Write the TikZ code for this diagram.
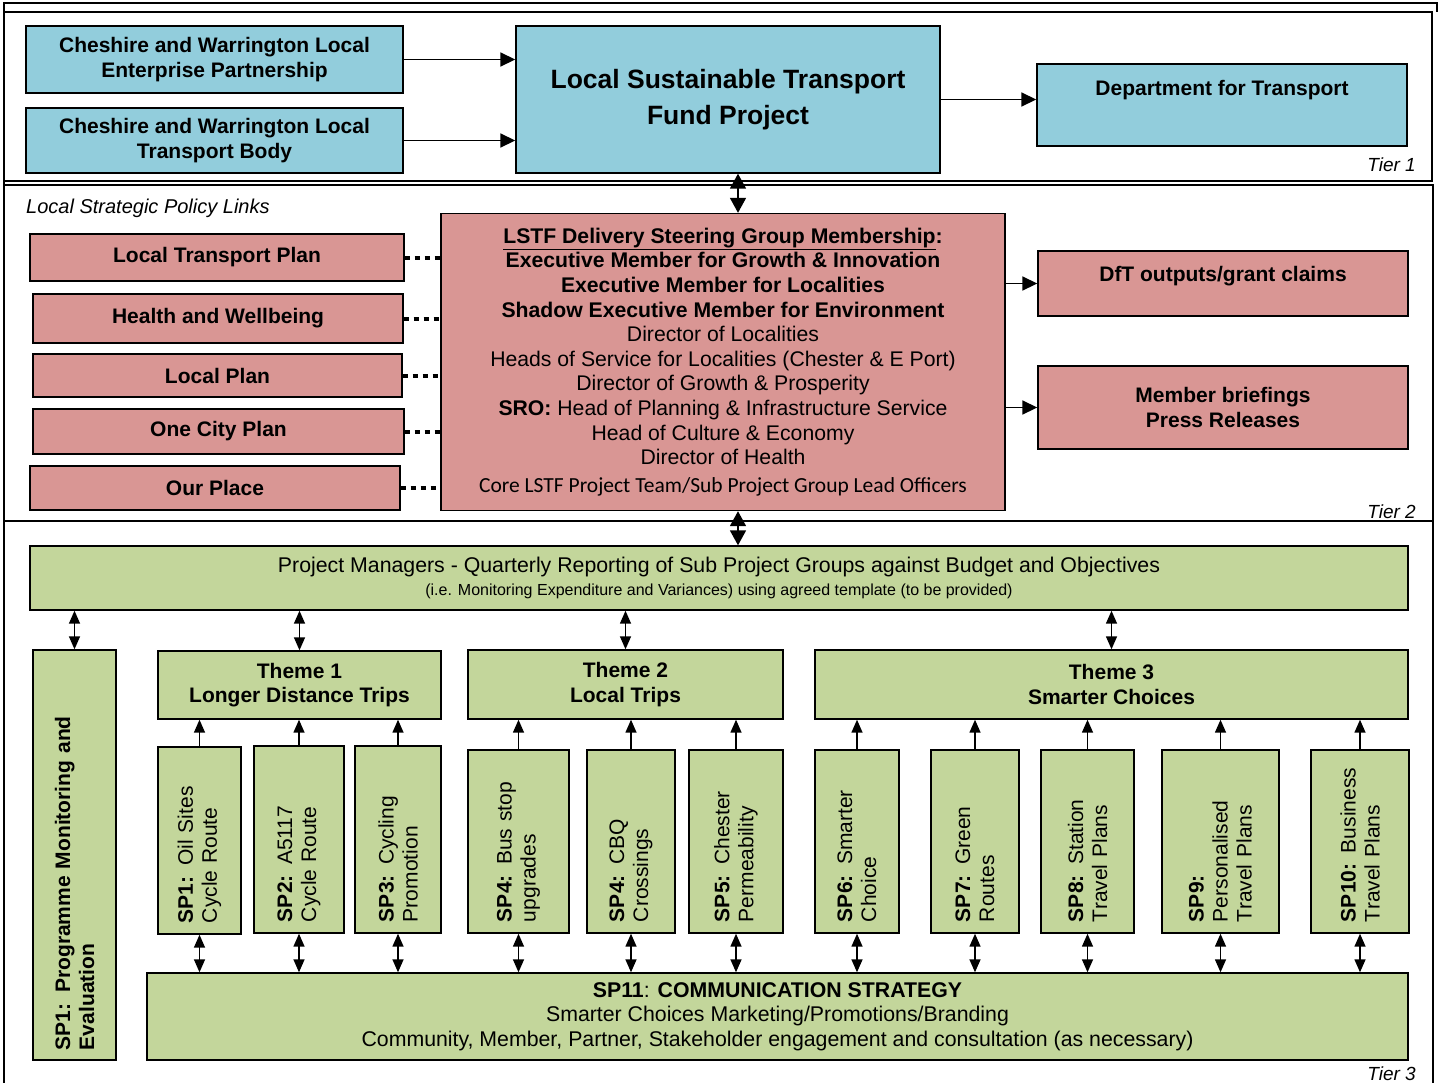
\documentclass[tikz,border=0pt]{standalone}
\usepackage{fontspec}
\setmainfont{Liberation Sans}
\newfontfamily\corefont{Carlito}
\usetikzlibrary{positioning,arrows.meta,calc}
\definecolor{lstfblue}{RGB}{146,205,220}
\definecolor{lstfpink}{RGB}{217,150,148}
\definecolor{lstfgreen}{RGB}{195,214,155}

\begin{document}
\begin{tikzpicture}[x=1pt,y=-1pt,
  frame/.style={draw, line width=1.3pt},
  bluebox/.style={draw, line width=1.4pt, fill=lstfblue, align=center, inner sep=0pt,
              font=\bfseries\fontsize{21}{24.5}\selectfont},
  pinkbox/.style={draw, line width=1.4pt, fill=lstfpink, align=center, inner sep=0pt,
              font=\bfseries\fontsize{21}{24.5}\selectfont},
  greenbox/.style={draw, line width=1.4pt, fill=lstfgreen, align=center, inner sep=0pt,
              font=\fontsize{21.3}{24.5}\selectfont},
  spbox/.style={draw, line width=1.4pt, fill=lstfgreen, rotate=90, align=left,
              inner xsep=11pt, inner ysep=0pt, font=\fontsize{21}{24}\selectfont},
  ar/.style={-{Triangle[length=15pt,width=14pt]}, line width=1.7pt},
  dar/.style={{Triangle[length=15pt,width=16pt]}-{Triangle[length=15pt,width=16pt]}, line width=1.7pt},
  sar/.style={-{Triangle[length=13pt,width=11pt]}, line width=1.5pt},
  sdar/.style={{Triangle[length=13pt,width=11pt]}-{Triangle[length=13pt,width=11pt]}, line width=1.5pt},
  link/.style={line width=4pt, dash pattern=on 5pt off 5pt},
  lab/.style={font=\itshape\fontsize{19}{22}\selectfont, inner sep=0pt},
]
\useasboundingbox (0,0) rectangle (1440,1082);
\clip (0,0) rectangle (1440,1082);
% tier frames
\draw[frame] (4,1100) |- (1437,3) -- (1437,12);
\draw[frame] (4,12) rectangle (1432,181);
\draw[frame] (4,185) rectangle (1433,521);
\draw[frame] (4,521) rectangle (1433,1100);

% tier 1
\node[bluebox, minimum width=377pt, minimum height=67pt] (lep) at (214.5,59.5)
  {Cheshire and Warrington Local\\Enterprise Partnership};
\node[bluebox, minimum width=377pt, minimum height=65pt] (ltb) at (214.5,140.5)
  {Cheshire and Warrington Local\\Transport Body};
\node[bluebox, minimum width=424pt, minimum height=147pt,
      font=\bfseries\fontsize{26.5}{36}\selectfont] (lstf) at (728,99.5)
  {Local Sustainable Transport\\Fund Project};
\node[bluebox, minimum width=370pt, minimum height=82pt,
      text height=15pt, text depth=34pt] (dft) at (1222,105) {Department for Transport};
\draw[ar] (lep.east) -- (lep.east -| lstf.west);
\draw[ar] (ltb.east) -- (ltb.east -| lstf.west);
\draw[ar] (lstf.east) -- (lstf.east -| dft.west);
\node[lab, anchor=east] (t1) at (1416,165) {Tier 1};

% tier 2
\node[lab, anchor=west, font=\itshape\fontsize{20}{22}\selectfont] (links) at (26,208)
  {Local Strategic Policy Links};
\node[pinkbox, minimum width=374pt, minimum height=47pt] (ltp) at (217,257.5) {Local Transport Plan};
\node[pinkbox, minimum width=370pt, minimum height=49pt] (hw) at (218,318.5) {Health and Wellbeing};
\node[pinkbox, minimum width=369pt, minimum height=43pt] (lp) at (217.5,375.5) {Local Plan};
\node[pinkbox, minimum width=371pt, minimum height=45pt] (ocp) at (218.5,431.5) {One City Plan};
\node[pinkbox, minimum width=370pt, minimum height=44pt] (op) at (215,488) {Our Place};
\node[pinkbox, minimum width=564pt, minimum height=297pt,
      font=\fontsize{21.2}{24.6}\selectfont] (sg) at (723,362)
  {\textbf{\underline{LSTF Delivery Steering Group Membership}:}\\
   \textbf{Executive Member for Growth \& Innovation}\\
   \textbf{Executive Member for Localities}\\
   \textbf{Shadow Executive Member for Environment}\\
   Director of Localities\\
   Heads of Service for Localities (Chester \& E Port)\\
   Director of Growth \& Prosperity\\
   \textbf{SRO:} Head of Planning \& Infrastructure Service\\
   Head of Culture \& Economy\\
   Director of Health\\[3pt]
   {\corefont\fontsize{21.5}{24}\selectfont Core LSTF Project Team/Sub Project Group Lead Officers}};
\node[pinkbox, minimum width=370pt, minimum height=65pt,
      text height=15pt, text depth=19pt] (dfto) at (1223,283.5) {DfT outputs/grant claims};
\node[pinkbox, minimum width=370pt, minimum height=83pt] (brief) at (1223,407.5)
  {Member briefings\\Press Releases};
\foreach \p in {ltp,hw,lp,ocp,op}
  \draw[link] (\p.east) -- (\p.east -| sg.west);
\draw[ar] (sg.east |- dfto.west) -- (dfto.west);
\draw[ar] (sg.east |- brief.west) -- (brief.west);
\draw[dar] ([xshift=10pt]lstf.south) -- ([xshift=10pt]lstf.south |- sg.north);
\node[lab, anchor=east] (t2) at (1416,512) {Tier 2};

% tier 3
\node[greenbox, minimum width=1378pt, minimum height=64pt] (pm) at (719,578)
  {Project Managers - Quarterly Reporting of Sub Project Groups against Budget and Objectives\\[-1pt]
   \fontsize{16}{17}\selectfont (i.e. Monitoring Expenditure and Variances) using agreed template (to be provided)};
\draw[dar] ([xshift=15pt]sg.south) -- ([xshift=15pt]sg.south |- pm.north);
% rotated boxes: east is the top edge, west the bottom edge
\node[spbox, font=\bfseries\fontsize{21}{24}\selectfont, inner xsep=10pt,
      minimum width=410pt, minimum height=83pt, text width=390pt] (pme) at (74.5,855)
  {SP1: Programme Monitoring and\\Evaluation};
\node[greenbox, font=\bfseries\fontsize{21}{24.5}\selectfont,
      minimum width=283pt, minimum height=68pt] (th1) at (299.5,685) {Theme 1\\Longer Distance Trips};
\node[greenbox, font=\bfseries\fontsize{21}{24.5}\selectfont,
      minimum width=315pt, minimum height=69pt] (th2) at (625.5,684.5) {Theme 2\\Local Trips};
\node[greenbox, font=\bfseries\fontsize{21}{24.5}\selectfont,
      minimum width=593pt, minimum height=69pt] (th3) at (1111.5,684.5) {Theme 3\\Smarter Choices};

\node[spbox, minimum width=187pt, minimum height=83pt, text width=165pt] (sp1) at (199.5,840.5)
  {\textbf{SP1:} Oil Sites\\Cycle Route};
\node[spbox, minimum width=187pt, minimum height=90pt, text width=165pt] (sp2) at (299,839.5)
  {\textbf{SP2:} A5117\\Cycle Route};
\node[spbox, minimum width=187pt, minimum height=86pt, text width=165pt] (sp3) at (398,839.5)
  {\textbf{SP3:} Cycling\\Promotion};
\node[spbox, minimum width=183pt, minimum height=101pt, text width=161pt] (sp4) at (518.5,841.5)
  {\textbf{SP4:} Bus stop\\upgrades};
\node[spbox, minimum width=183pt, minimum height=88pt, text width=161pt] (cbq) at (631,841.5)
  {\textbf{SP4:} CBQ\\Crossings};
\node[spbox, minimum width=183pt, minimum height=94pt, text width=161pt] (sp5) at (736,841.5)
  {\textbf{SP5:} Chester\\Permeability};
\node[spbox, minimum width=183pt, minimum height=84pt, text width=161pt] (sp6) at (857,841.5)
  {\textbf{SP6:} Smarter\\Choice};
\node[spbox, minimum width=183pt, minimum height=88pt, text width=161pt] (sp7) at (975,841.5)
  {\textbf{SP7:} Green\\Routes};
\node[spbox, minimum width=183pt, minimum height=93pt, text width=161pt] (sp8) at (1087.5,841.5)
  {\textbf{SP8:} Station\\Travel Plans};
\node[spbox, minimum width=183pt, minimum height=117pt, text width=161pt] (sp9) at (1220.5,841.5)
  {\textbf{SP9:}\\Personalised\\Travel Plans};
\node[spbox, minimum width=183pt, minimum height=98pt, text width=161pt] (sp10) at (1360,841.5)
  {\textbf{SP10:} Business\\Travel Plans};

\node[greenbox, minimum width=1261pt, minimum height=87pt] (sp11) at (777.5,1016.5)
  {\textbf{SP11}: \textbf{COMMUNICATION STRATEGY}\\
   Smarter Choices Marketing/Promotions/Branding\\
   Community, Member, Partner, Stakeholder engagement and consultation (as necessary)};

\draw[sdar] (pme.east |- pm.south) -- (pme.east);
\foreach \t in {th1,th2,th3}
  \draw[sdar] (\t.north |- pm.south) -- (\t.north);
\foreach \s in {sp1,sp2,sp3}
  \draw[sar] (\s.east) -- (\s.east |- th1.south);
\foreach \s in {sp4,cbq,sp5}
  \draw[sar] (\s.east) -- (\s.east |- th2.south);
\foreach \s in {sp6,sp7,sp8,sp9,sp10}
  \draw[sar] (\s.east) -- (\s.east |- th3.south);
\foreach \s in {sp1,sp2,sp3,sp4,cbq,sp5,sp6,sp7,sp8,sp9,sp10}
  \draw[sdar] (\s.west) -- (\s.west |- sp11.north);
\node[lab, anchor=south east] (t3) at (1416,1081) {Tier 3};
\end{tikzpicture}
\end{document}
